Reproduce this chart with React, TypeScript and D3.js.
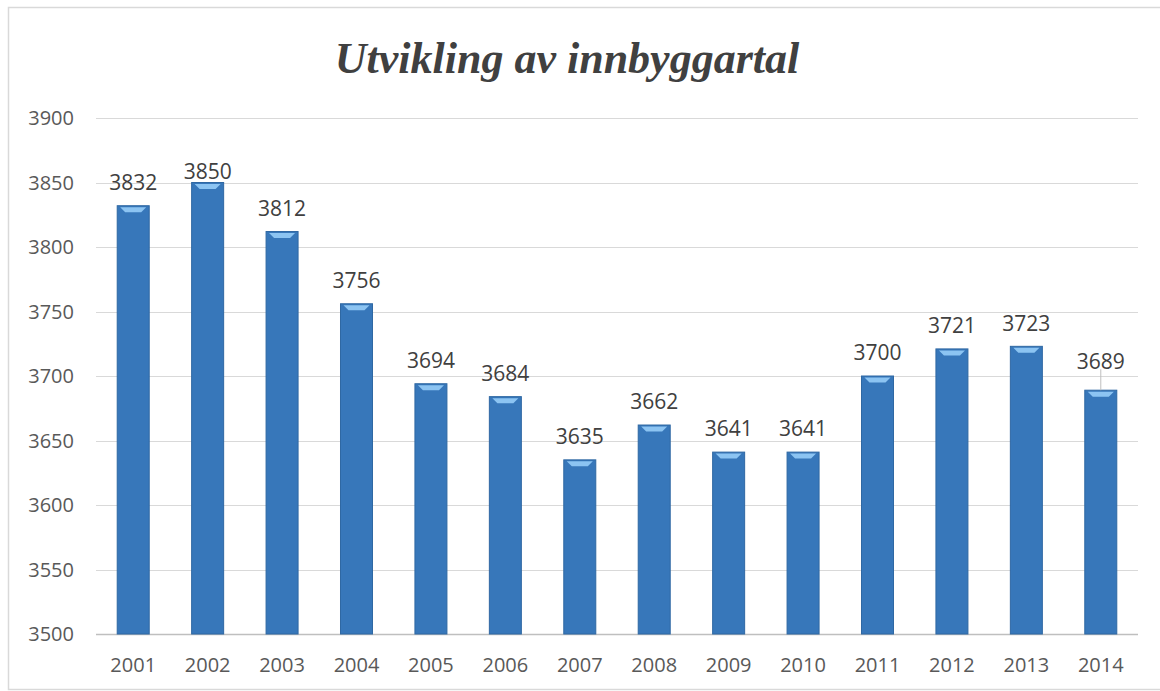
import React, { useEffect, useRef } from 'react';
import * as d3 from 'd3';

const years = ['2001', '2002', '2003', '2004', '2005', '2006', '2007', '2008', '2009', '2010', '2011', '2012', '2013', '2014'];
const population = [3832, 3850, 3812, 3756, 3694, 3684, 3635, 3662, 3641, 3641, 3700, 3721, 3723, 3689];
const yTicks = [3500, 3550, 3600, 3650, 3700, 3750, 3800, 3850, 3900];
const title = 'Utvikling av innbyggartal';

const App = () => {
  const svgRef = useRef<SVGSVGElement>(null);

  useEffect(() => {
    const svg = d3.select(svgRef.current);
    svg.selectAll('*').remove();

    const x = d3.scaleBand()
      .domain(years)
      .range([96, 1138])
      .paddingInner(0.57)
      .paddingOuter(0.285);

    const y = d3.scaleLinear()
      .domain([3500, 3900])
      .range([634, 118]);

    // frame
    svg.append('rect')
      .attr('x', 8.5)
      .attr('y', 7.5)
      .attr('width', 1170)
      .attr('height', 682)
      .attr('fill', 'white')
      .attr('stroke', '#d9d9d9')
      .attr('stroke-width', 1.5);

    svg.append('text')
      .attr('x', 567)
      .attr('y', 73)
      .attr('text-anchor', 'middle')
      .attr('font-family', '"Liberation Serif", serif')
      .attr('font-style', 'italic')
      .attr('font-weight', 'bold')
      .attr('font-size', 44)
      .attr('fill', '#404040')
      .text(title);

    // gridlines
    svg.append('g')
      .selectAll('line')
      .data(yTicks)
      .enter()
      .append('line')
      .attr('x1', 96)
      .attr('x2', 1138)
      .attr('y1', d => Math.round(y(d)) + 0.5)
      .attr('y2', d => Math.round(y(d)) + 0.5)
      .attr('stroke', d => d === 3500 ? '#bfbfbf' : '#d9d9d9')
      .attr('stroke-width', d => d === 3500 ? 1.5 : 1);

    // y labels
    svg.append('g')
      .selectAll('text')
      .data(yTicks)
      .enter()
      .append('text')
      .attr('x', 74)
      .attr('y', d => y(d))
      .attr('dy', '0.35em')
      .attr('text-anchor', 'end')
      .attr('font-family', '"Open Sans", sans-serif')
      .attr('font-size', 20)
      .attr('fill', '#595959')
      .text(d => d);

    // x labels
    svg.append('g')
      .selectAll('text')
      .data(years)
      .enter()
      .append('text')
      .attr('x', d => x(d) + x.bandwidth() / 2)
      .attr('y', 665)
      .attr('dy', '0.35em')
      .attr('text-anchor', 'middle')
      .attr('font-family', '"Open Sans", sans-serif')
      .attr('font-size', 20)
      .attr('fill', '#595959')
      .text(d => d);

    const bars = svg.append('g')
      .selectAll('g')
      .data(years.map((yr, i) => ({ yr, v: population[i] })))
      .enter()
      .append('g');

    bars.append('rect')
      .attr('x', d => x(d.yr))
      .attr('y', d => y(d.v))
      .attr('width', x.bandwidth())
      .attr('height', d => 634 - y(d.v))
      .attr('fill', '#3777ba')
      .attr('stroke', '#2f68a3')
      .attr('stroke-width', 1);

    // light cap on top of each bar
    bars.append('path')
      .attr('d', d => {
        const x0 = x(d.yr);
        const w = x.bandwidth();
        const t = y(d.v) + 1.5;
        return `M${x0 + 3},${t} L${x0 + w - 3},${t} L${x0 + w - 8},${t + 5} L${x0 + 8},${t + 5} Z`;
      })
      .attr('fill', '#8cc4f2');

    // labels, 2002 sits close to the bar, 2014 pushed up with a leader line
    const offset = (yr) => (yr === '2002' ? 11 : yr === '2014' ? 29 : 23);

    bars.filter(d => d.yr === '2014')
      .append('line')
      .attr('x1', d => x(d.yr) + x.bandwidth() / 2)
      .attr('x2', d => x(d.yr) + x.bandwidth() / 2)
      .attr('y1', d => y(d.v) - offset(d.yr) + 8)
      .attr('y2', d => y(d.v))
      .attr('stroke', '#bfbfbf')
      .attr('stroke-width', 1);

    bars.append('text')
      .attr('x', d => x(d.yr) + x.bandwidth() / 2)
      .attr('y', d => y(d.v) - offset(d.yr))
      .attr('dy', '0.35em')
      .attr('text-anchor', 'middle')
      .attr('font-family', '"Open Sans", sans-serif')
      .attr('font-size', 21)
      .attr('fill', '#404040')
      .text(d => d.v);
  }, []);

  return <svg ref={svgRef} width={1160} height={691} style={{ position: 'absolute', left: 0, top: 0 }}></svg>;
};

export default App;
